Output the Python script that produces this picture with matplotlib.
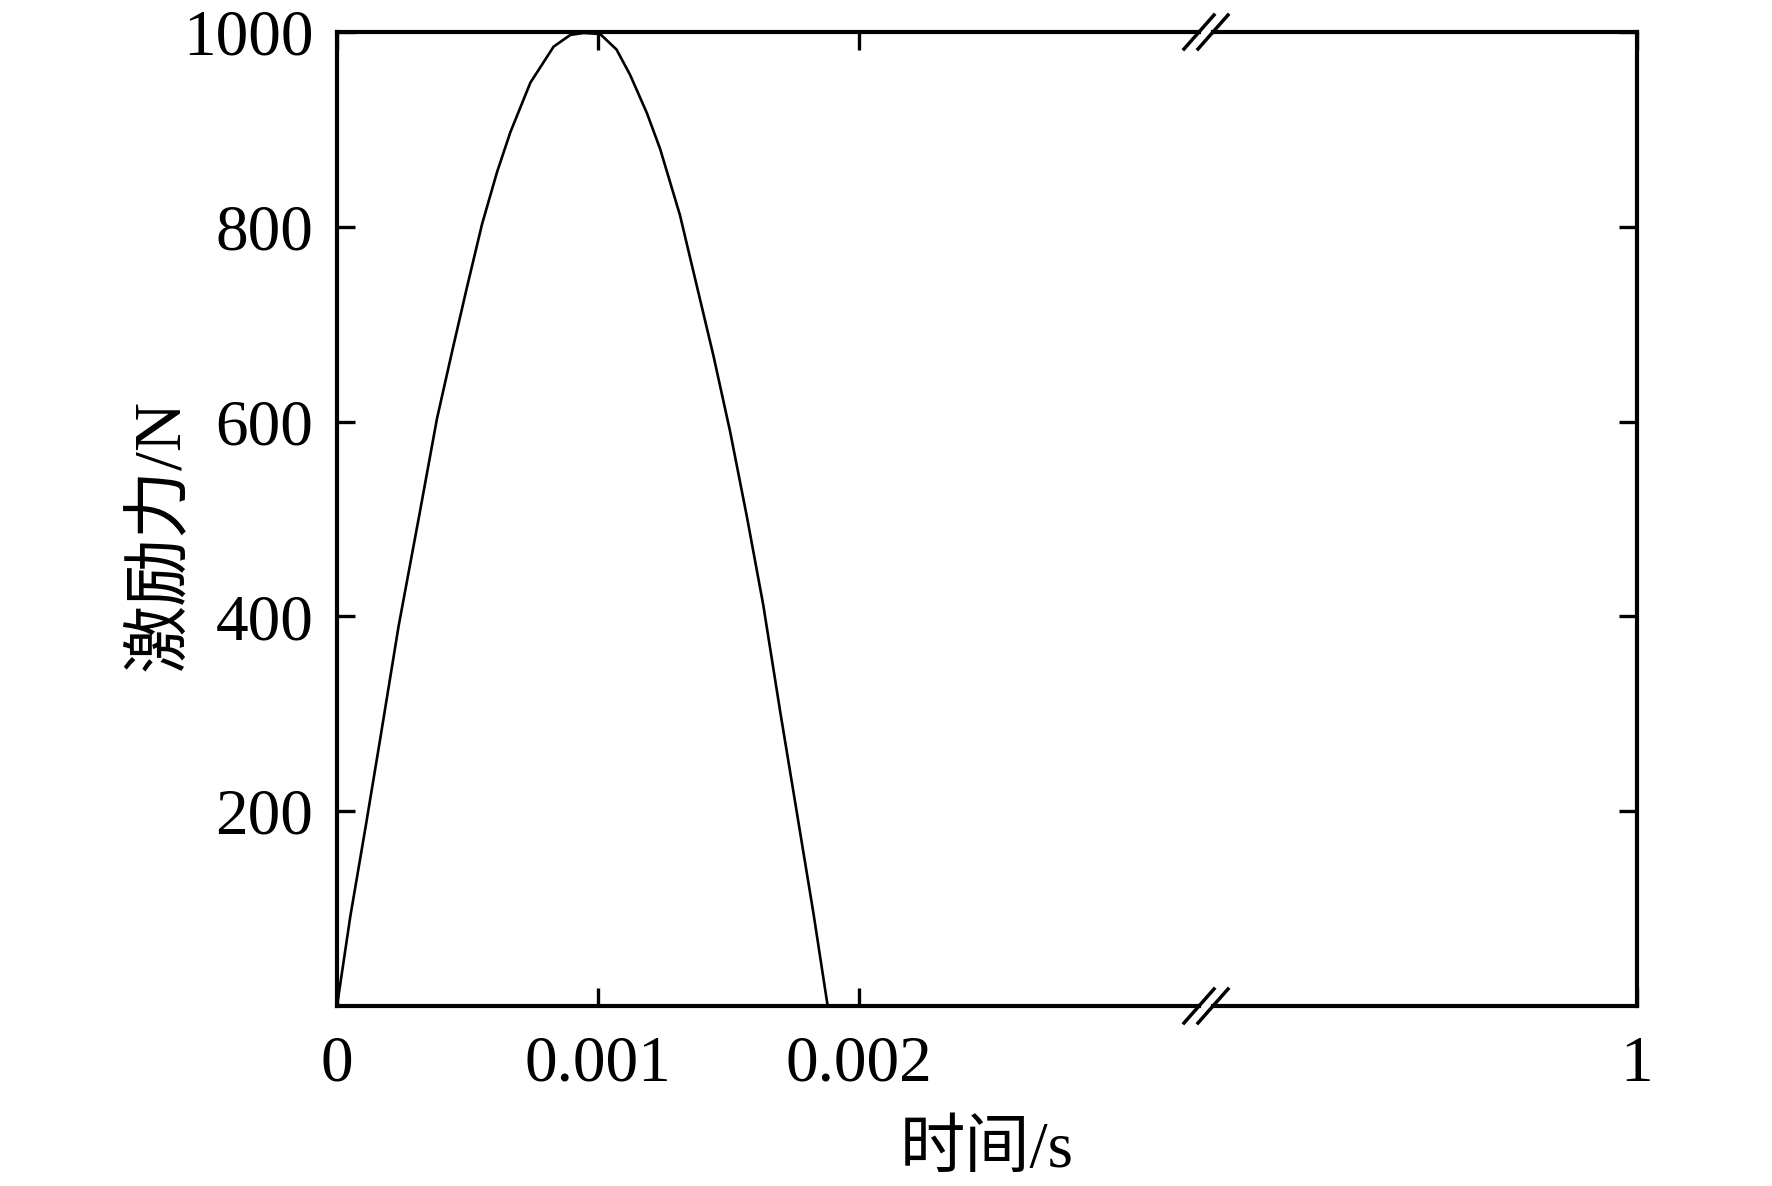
import matplotlib
matplotlib.use("Agg")
import matplotlib.pyplot as plt
from matplotlib.lines import Line2D

# excitation force pulse
time_s = [0.0, 0.000051, 0.000109, 0.000166, 0.000236, 0.000316, 0.000383,
          0.000441, 0.000498, 0.000556, 0.000613, 0.000664, 0.000741,
          0.00083, 0.000894, 0.000945, 0.001008, 0.001071, 0.001123,
          0.001187, 0.001238, 0.001314, 0.001378, 0.001442, 0.001506,
          0.00157, 0.001633, 0.001697, 0.001761, 0.001825, 0.00188]
force_n = [0, 92, 183, 275, 390, 505, 603, 672, 738, 803, 856, 897, 948,
           985, 997, 999, 998, 982, 956, 917, 880, 812, 740, 668, 590, 503,
           412, 304, 200, 96, 0]

yticks = [200, 400, 600, 800, 1000]
xticks_left = [0, 0.001, 0.002]
xticklabels_left = ['0', '0.001', '0.002']
xticks_right = [1]
xticklabels_right = ['1']

FONT = ['Liberation Serif', 'Noto Sans CJK SC', 'DejaVu Sans']
plt.rcParams['font.family'] = FONT
plt.rcParams['font.size'] = 47

W, H = 1772, 1186
fig = plt.figure(figsize=(W / 100, H / 100), dpi=100)

def fx(px):
    return px / W

def fy(py):
    return 1 - py / H

left, brk_l, brk_r, right = 337, 1199, 1213, 1637
top, bottom = 32, 1006

ax1 = fig.add_axes([fx(left), fy(bottom), fx(brk_l - left), (bottom - top) / H])
ax2 = fig.add_axes([fx(brk_r), fy(bottom), fx(right - brk_r), (bottom - top) / H])

ax1.plot(time_s, force_n, color='black', lw=1.9)

ax1.set_xlim(0, (brk_l - left) / 261 * 0.001)
ax2.set_xlim(0.9, 1.0)
for ax in (ax1, ax2):
    ax.set_ylim(0, 1000)
    ax.set_yticks(yticks)
    for s in ax.spines.values():
        s.set_linewidth(3.0)
    ax.tick_params(direction='in', length=13, width=2.4, pad=21,
                   labelsize=47, top=True)

ax1.spines['right'].set_visible(False)
ax2.spines['left'].set_visible(False)

ax1.set_xticks(xticks_left)
ax1.set_xticklabels(xticklabels_left)
ax1.tick_params(axis='y', left=True, right=False, pad=17)

ax2.set_xticks(xticks_right)
ax2.set_xticklabels(xticklabels_right)
ax2.tick_params(axis='y', left=False, right=True, labelleft=False,
                labelright=False)

# break marks
for cx in (brk_l, brk_r):
    for cy in (top, bottom):
        line = Line2D([fx(cx - 15), fx(cx + 15)], [fy(cy + 17), fy(cy - 17)],
                      transform=fig.transFigure, color='black', lw=2.5)
        fig.add_artist(line)

fig.text(fx((left + right) / 2), fy(1151), '时间/s', ha='center', va='center',
         fontsize=47, family=FONT)
fig.text(fx(161), fy(535), '激励力/N', ha='center',
         va='center', rotation=90, fontsize=49, family=FONT)

fig.savefig('out.png', dpi=100)
